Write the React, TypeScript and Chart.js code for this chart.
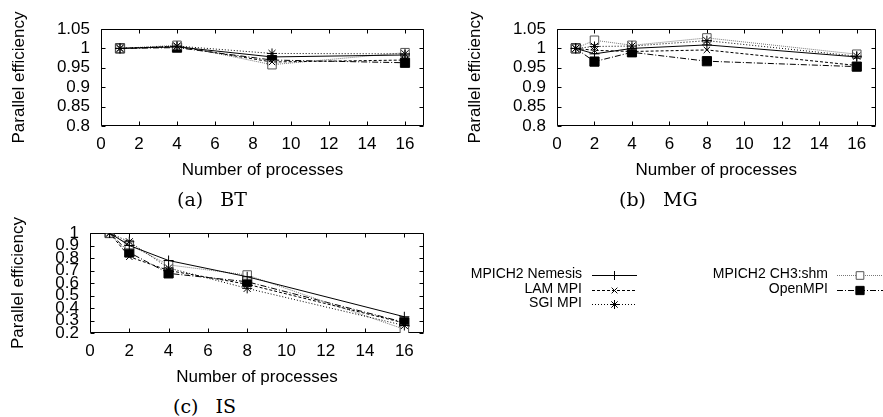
import React, { useEffect, useRef } from 'react';
import { Chart, registerables } from 'chart.js';
import { drawPoint } from 'chart.js/helpers';

Chart.register(...registerables);

const FONT = "'Liberation Sans', Arial, sans-serif";
const FS = 17;

// ---------- data ----------
const seriesNames = ['MPICH2 Nemesis', 'LAM MPI', 'SGI MPI', 'MPICH2 CH3:shm', 'OpenMPI'];

const procTicks = [0, 2, 4, 6, 8, 10, 12, 14, 16];
const effTicksTop = [0.8, 0.85, 0.9, 0.95, 1, 1.05];
const effTicksIS = [0.2, 0.3, 0.4, 0.5, 0.6, 0.7, 0.8, 0.9, 1];

const btProcs = [1, 4, 9, 16];
const btNemesis = [1.0, 1.004, 0.978, 0.983];
const btLam = [1.0, 1.005, 0.965, 0.97];
const btSgi = [1.0, 1.006, 0.987, 0.986];
const btCh3 = [1.0, 1.008, 0.958, 0.989];
const btOpen = [1.0, 1.002, 0.97, 0.963];

const mgProcs = [1, 2, 4, 8, 16];
const mgNemesis = [1.0, 0.986, 1.0, 1.009, 0.978];
const mgLam = [1.0, 0.995, 0.992, 0.996, 0.956];
const mgSgi = [1.0, 1.005, 1.006, 1.02, 0.98];
const mgCh3 = [1.0, 1.021, 1.008, 1.027, 0.985];
const mgOpen = [1.0, 0.966, 0.99, 0.967, 0.953];

const isProcs = [1, 2, 4, 8, 16];
const isNemesis = [1.0, 0.9, 0.78, 0.65, 0.33];
const isLam = [1.0, 0.81, 0.7, 0.59, 0.28];
const isSgi = [1.0, 0.93, 0.72, 0.557, 0.26];
const isCh3 = [1.0, 0.907, 0.745, 0.664, 0.23];
const isOpen = [1.0, 0.844, 0.677, 0.61, 0.285];

// ---------- styles ----------
const seriesStyles = [
  { line: '#000', dash: [], point: 'cross', radius: 5, fill: '#000', pborder: '#000' },
  { line: '#000', dash: [3, 2], point: 'crossRot', radius: 4.5, fill: '#000', pborder: '#000' },
  { line: '#000', dash: [1, 2], point: 'star', radius: 5, fill: '#000', pborder: '#000' },
  { line: '#777', dash: [1, 1], point: 'rect', radius: 6, fill: '#fff', pborder: '#555' },
  { line: '#000', dash: [6, 2, 1, 2], point: 'rect', radius: 6.5, fill: '#000', pborder: '#000' },
];

function makeDatasets(procs: number[], series: number[][]) {
  return series.map((vals, i) => {
    const s = seriesStyles[i];
    return {
      label: seriesNames[i],
      data: procs.map((x, j) => ({ x, y: vals[j] })),
      borderColor: s.line,
      borderDash: s.dash,
      borderWidth: 1,
      tension: 0,
      fill: false,
      pointStyle: s.point,
      pointRadius: s.radius,
      pointBorderWidth: 1,
      pointBackgroundColor: s.fill,
      pointBorderColor: s.pborder,
    };
  });
}

const framePlugin = {
  id: 'gpFrame',
  beforeDatasetsDraw(chart: any) {
    const { ctx, chartArea: a, scales } = chart;
    const x = scales.x;
    const y = scales.y;
    const L = Math.round(a.left) + 0.5;
    const R = Math.round(a.right) - 0.5;
    const T = Math.round(a.top) + 0.5;
    const B = Math.round(a.bottom) - 0.5;
    ctx.save();
    ctx.strokeStyle = '#000';
    ctx.lineWidth = 1;
    ctx.setLineDash([]);
    ctx.beginPath();
    ctx.rect(L, T, R - L, B - T);
    ctx.stroke();
    const len = 4;
    ctx.beginPath();
    x.ticks.forEach((t: any) => {
      const px = Math.round(x.getPixelForValue(t.value)) + 0.5;
      ctx.moveTo(px, B);
      ctx.lineTo(px, B - len);
      ctx.moveTo(px, T);
      ctx.lineTo(px, T + len);
    });
    y.ticks.forEach((t: any) => {
      const py = Math.round(y.getPixelForValue(t.value)) + 0.5;
      ctx.moveTo(L, py);
      ctx.lineTo(L + len, py);
      ctx.moveTo(R, py);
      ctx.lineTo(R - len, py);
    });
    ctx.stroke();
    ctx.restore();
  },
};

const legendPlugin = {
  id: 'gpLegend',
  afterDraw(chart: any, _args: any, opts: any) {
    if (!opts || !opts.entries) return;
    const { ctx } = chart;
    ctx.save();
    opts.entries.forEach((e: any) => {
      const ds = chart.data.datasets[e.index];
      ctx.fillStyle = '#000';
      ctx.font = `14px ${FONT}`;
      ctx.textAlign = 'right';
      ctx.textBaseline = 'middle';
      ctx.fillText(ds.label, e.textRight, e.y);
      ctx.strokeStyle = ds.borderColor;
      ctx.lineWidth = 1;
      ctx.setLineDash(ds.borderDash);
      ctx.beginPath();
      ctx.moveTo(e.x1, Math.round(e.y) + 0.5);
      ctx.lineTo(e.x2, Math.round(e.y) + 0.5);
      ctx.stroke();
      ctx.setLineDash([]);
      ctx.fillStyle = ds.pointBackgroundColor;
      ctx.strokeStyle = ds.pointBorderColor;
      drawPoint(ctx, { pointStyle: ds.pointStyle, radius: ds.pointRadius * 0.9, rotation: 0, borderWidth: 1 } as any, (e.x1 + e.x2) / 2, Math.round(e.y) + 0.5);
    });
    ctx.restore();
  },
};

interface PanelSpec {
  datasets: any[];
  yMin: number;
  yMax: number;
  yTicks: number[];
  padTop: number;
  padRight: number;
  yW: number;
  xH: number;
  yTitlePad: number;
  legend?: any;
}

function makeConfig(p: PanelSpec): any {
  return {
    type: 'line',
    data: { datasets: p.datasets },
    options: {
      animation: false,
      responsive: false,
      devicePixelRatio: 1,
      layout: { padding: { top: p.padTop, right: p.padRight, left: 0, bottom: 0 } },
      plugins: {
        legend: { display: false },
        tooltip: { enabled: false },
        gpLegend: p.legend || {},
      },
      scales: {
        x: {
          type: 'linear',
          min: 0,
          max: 17,
          grid: { display: false, drawTicks: false },
          border: { display: false },
          afterBuildTicks: (s: any) => {
            s.ticks = procTicks.map((v) => ({ value: v }));
          },
          afterFit: (s: any) => {
            s.height = p.xH;
          },
          ticks: {
            autoSkip: false,
            maxRotation: 0,
            padding: 8,
            color: '#000',
            font: { family: FONT, size: FS },
            callback: (v: any) => String(v),
          },
          title: {
            display: true,
            text: 'Number of processes',
            color: '#000',
            font: { family: FONT, size: FS },
            padding: { top: 0, bottom: 4 },
          },
        },
        y: {
          type: 'linear',
          min: p.yMin,
          max: p.yMax,
          grid: { display: false, drawTicks: false },
          border: { display: false },
          afterBuildTicks: (s: any) => {
            s.ticks = p.yTicks.map((v) => ({ value: v }));
          },
          afterFit: (s: any) => {
            s.width = p.yW;
          },
          ticks: {
            autoSkip: false,
            padding: 11,
            color: '#000',
            font: { family: FONT, size: FS },
            callback: (v: any) => String(+Number(v).toFixed(2)),
          },
          title: {
            display: true,
            text: 'Parallel efficiency',
            color: '#000',
            font: { family: FONT, size: FS },
            padding: { top: p.yTitlePad, bottom: 0 },
          },
        },
      },
    },
    plugins: [framePlugin, legendPlugin],
  };
}

function Panel({ spec, left, top, width, height }: { spec: PanelSpec; left: number; top: number; width: number; height: number }) {
  const ref = useRef<HTMLCanvasElement>(null);
  useEffect(() => {
    if (!ref.current) return;
    const chart = new Chart(ref.current, makeConfig(spec));
    return () => chart.destroy();
  }, []);
  return (
    <canvas
      ref={ref}
      width={width}
      height={height}
      style={{ position: 'absolute', left, top, width, height }}
    />
  );
}

const captionStyle: React.CSSProperties = {
  position: 'absolute',
  fontFamily: "'DejaVu Serif', 'Liberation Serif', serif",
  fontSize: 19,
  lineHeight: '20px',
  color: '#000',
  whiteSpace: 'pre',
  wordSpacing: '11px',
};

export default function App() {
  const specA: PanelSpec = {
    datasets: makeDatasets(btProcs, [btNemesis, btLam, btSgi, btCh3, btOpen]),
    yMin: 0.8, yMax: 1.05, yTicks: effTicksTop,
    padTop: 29, padRight: 16, yW: 101, xH: 59, yTitlePad: 9,
  };
  const specB: PanelSpec = {
    datasets: makeDatasets(mgProcs, [mgNemesis, mgLam, mgSgi, mgCh3, mgOpen]),
    yMin: 0.8, yMax: 1.05, yTicks: effTicksTop,
    padTop: 29, padRight: 1, yW: 101, xH: 59, yTitlePad: 9,
  };
  const specC: PanelSpec = {
    datasets: makeDatasets(isProcs, [isNemesis, isLam, isSgi, isCh3, isOpen]),
    yMin: 0.2, yMax: 1.0, yTicks: effTicksIS,
    padTop: 29, padRight: 459, yW: 90, xH: 59, yTitlePad: 8,
    legend: {
      entries: [
        { index: 0, textRight: 582, x1: 592, x2: 637, y: 70.5 },
        { index: 1, textRight: 582, x1: 592, x2: 637, y: 85.5 },
        { index: 2, textRight: 582, x1: 592, x2: 637, y: 99.5 },
        { index: 3, textRight: 828, x1: 837, x2: 883, y: 70.5 },
        { index: 4, textRight: 828, x1: 837, x2: 883, y: 85.5 },
      ],
    },
  };
  return (
    <div style={{ position: 'fixed', left: 0, top: 0, width: 883, height: 417, background: '#fff', overflow: 'hidden' }}>
      <Panel spec={specA} left={0} top={0} width={440} height={185} />
      <Panel spec={specB} left={456} top={0} width={427} height={185} />
      <Panel spec={specC} left={0} top={204} width={883} height={188} />
      <div style={{ ...captionStyle, left: 177, top: 189 }}>(a) BT</div>
      <div style={{ ...captionStyle, left: 619, top: 189 }}>(b) MG</div>
      <div style={{ ...captionStyle, left: 173, top: 396 }}>(c) IS</div>
    </div>
  );
}
